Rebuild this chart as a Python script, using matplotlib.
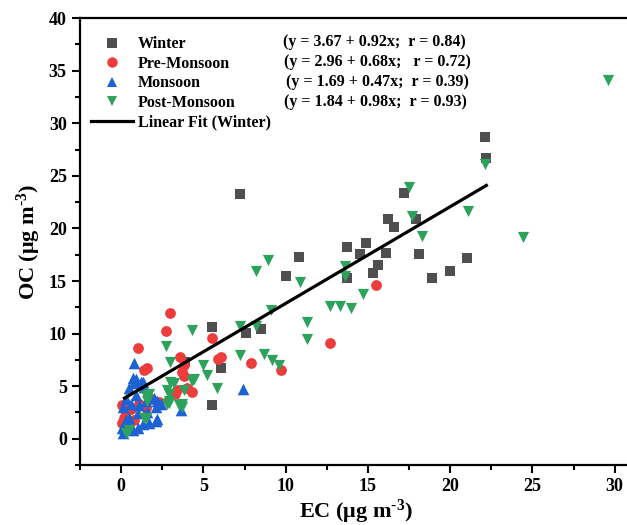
import matplotlib
matplotlib.use('Agg')
import matplotlib.pyplot as plt
from matplotlib.ticker import MultipleLocator
from matplotlib.lines import Line2D

plt.rcParams['font.family'] = ['Liberation Serif', 'DejaVu Serif']
plt.rcParams['font.weight'] = 'bold'
plt.rcParams['mathtext.fontset'] = 'custom'
plt.rcParams['mathtext.rm'] = 'Liberation Serif:bold'
plt.rcParams['mathtext.bf'] = 'Liberation Serif:bold'
plt.rcParams['mathtext.default'] = 'rm'

# EC, OC (ug m-3) per season
winter_ec = [7.2, 10.8, 10.0, 5.5, 7.6, 8.5, 6.1, 5.5, 3.9, 22.1, 22.15, 17.2, 16.2, 16.6,
             17.9, 13.7, 14.9, 14.5, 16.1, 18.1, 21.0, 20.0, 18.9, 15.6, 15.3, 13.7]
winter_oc = [23.3, 17.3, 15.5, 10.6, 10.1, 10.4, 6.7, 3.2, 7.3, 28.7, 26.7, 23.4, 20.9, 20.1,
             20.9, 18.2, 18.6, 17.6, 17.7, 17.6, 17.2, 16.0, 15.3, 16.5, 15.8, 15.3]

pre_ec = [3.0, 2.7, 1.0, 5.5, 3.6, 3.8, 3.7, 3.8, 5.9, 6.1, 7.9, 9.7, 12.7, 15.5, 1.4, 1.6,
          4.3, 3.4, 4.0, 0.05, 0.3, 0.2, 0.05, 1.1, 3.3, 1.8, 2.3, 0.6, 1.5, 0.8]
pre_oc = [12.0, 10.2, 8.6, 9.6, 7.8, 7.0, 6.3, 6.0, 7.6, 7.8, 7.2, 6.5, 9.1, 14.6, 6.5, 6.7,
          4.4, 4.6, 4.8, 3.2, 2.5, 2.0, 1.5, 3.3, 4.3, 3.8, 3.5, 2.8, 2.9, 1.8]

mon_ec = [0.8, 0.9, 1.3, 0.7, 1.2, 0.8, 1.4, 0.5, 0.3, 0.1, 0.6, 1.1, 1.6, 2.2, 2.1, 2.0, 2.4,
          3.65, 2.2, 2.1, 0.05, 0.4, 0.7, 1.0, 1.3, 0.1, 7.4, 0.5, 1.0, 1.7, 0.3, 1.5, 0.9]
mon_oc = [7.2, 5.7, 5.4, 5.8, 5.4, 5.3, 4.9, 4.8, 3.8, 3.0, 3.3, 3.2, 2.5, 3.6, 3.0, 3.9, 3.3,
          2.7, 1.9, 1.7, 1.05, 1.4, 0.8, 1.0, 1.4, 0.5, 4.7, 2.0, 2.4, 1.5, 1.8, 3.6, 4.2]

post_ec = [8.9, 8.2, 10.9, 9.1, 7.2, 8.2, 11.3, 11.3, 4.3, 7.2, 8.7, 9.2, 9.6, 5.0, 5.2, 4.3,
           22.1, 17.5, 21.1, 17.7, 18.3, 13.6, 13.6, 14.7, 12.7, 13.3, 14.0, 29.6, 24.4, 2.7,
           3.0, 4.4, 5.8, 3.0, 3.2, 2.8, 3.8, 2.9, 2.9, 3.7, 1.5, 1.7, 1.6, 2.9, 2.8, 3.5, 1.5,
           1.4, 0.5, 0.3, 3.7]
post_oc = [17.0, 16.0, 14.9, 12.2, 10.7, 10.7, 11.1, 9.5, 10.3, 8.0, 8.1, 7.5, 7.0, 7.0, 6.1,
           5.5, 26.1, 23.9, 21.7, 21.2, 19.3, 16.4, 15.5, 13.8, 12.6, 12.6, 12.4, 34.1, 19.2,
           8.8, 7.3, 5.7, 4.8, 5.4, 5.3, 4.6, 4.6, 4.3, 3.4, 3.3, 4.1, 4.3, 3.6, 3.6, 3.3, 3.2,
           2.0, 2.0, 0.8, 0.5, 3.0]

seasons = ['Winter', 'Pre-Monsoon', 'Monsoon', 'Post-Monsoon']
equations = ['(y = 3.67 + 0.92x;  r = 0.84)', '(y = 2.96 + 0.68x;   r = 0.72)',
             '(y = 1.69 + 0.47x;  r = 0.39)', '(y = 1.84 + 0.98x;  r = 0.93)']
fit_a, fit_b = 3.67, 0.92
fit_x = [0.2, 22.2]

colors = ['#4f4f4f', '#ee3b3b', '#1c62d4', '#2ca25c']
markers = ['s', 'o', '^', 'v']
sizes = [55, 60, 70, 65]

fig = plt.figure(figsize=(6.27, 5.25), dpi=100)
ax = fig.add_axes([0.1276, 0.1143, 0.879, 0.851])

data = [(winter_ec, winter_oc), (pre_ec, pre_oc), (mon_ec, mon_oc), (post_ec, post_oc)]
for (ex, oy), c, m, s in zip(data, colors, markers, sizes):
    ax.scatter(ex, oy, s=s, c=c, marker=m, linewidths=0, zorder=2)

ax.plot(fit_x, [fit_a + fit_b * v for v in fit_x], color='black', lw=2.3, zorder=3)

ax.set_xlim(-2.5, 31)
ax.set_ylim(-2.5, 40)
ax.xaxis.set_major_locator(MultipleLocator(5))
ax.xaxis.set_minor_locator(MultipleLocator(2.5))
ax.yaxis.set_major_locator(MultipleLocator(5))
ax.yaxis.set_minor_locator(MultipleLocator(2.5))
ax.tick_params(which='both', direction='out', width=1.5, labelsize=13, top=False, right=False)
ax.tick_params(which='major', length=6)
ax.tick_params(which='minor', length=3.5)
for sp in ax.spines.values():
    sp.set_linewidth(1.6)
ax.spines['right'].set_visible(False)

ax.set_xlabel('EC (μg m$^{\\text{-3}}$)', fontsize=16, fontweight='bold', labelpad=2)
ax.set_ylabel('OC (μg m$^{\\text{-3}}$)', fontsize=16, fontweight='bold', labelpad=4)

handles = [Line2D([], [], ls='none', marker=m, color=c, markersize=7.5, markeredgewidth=0)
           for c, m in zip(colors, markers)]
handles.append(Line2D([], [], color='black', lw=2.3))
labels = seasons + ['Linear Fit (Winter)']
ax.legend(handles, labels, loc='upper left', bbox_to_anchor=(0.0, 0.985), frameon=False,
          prop={'family': 'Liberation Serif', 'weight': 'bold', 'size': 11.5},
          handlelength=2.6, handletextpad=0.3, labelspacing=0.22, borderaxespad=0.3)

eq_y = [0.946, 0.901, 0.857, 0.812]
eq_x = [0.368, 0.370, 0.373, 0.370]
for t, xx, yy in zip(equations, eq_x, eq_y):
    ax.text(xx, yy, t, transform=ax.transAxes, fontsize=11.5, fontweight='bold',
            va='center', ha='left')

fig.savefig('out.png', dpi=100)
